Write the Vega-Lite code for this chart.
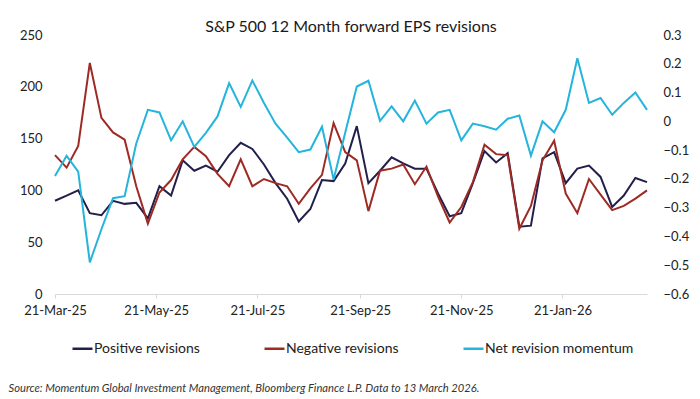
{
  "$schema": "https://vega.github.io/schema/vega-lite/v6.json",
  "width": 592,
  "height": 259,
  "autosize": {"type": "none"},
  "padding": {"left": 55, "top": 35, "right": 53, "bottom": 105},
  "background": "white",
  "config": {
    "view": {"stroke": null},
    "font": "Lato",
    "axis": {"grid": false, "labelFont": "Lato", "labelColor": "#222222", "labelFontSize": 13, "titleFont": "Lato"},
    "legend": {"labelFont": "Lato"}
  },
  "title": {
    "text": "S&P 500 12 Month forward EPS revisions",
    "fontSize": 16,
    "fontWeight": "normal",
    "color": "#1a1a1a",
    "anchor": "middle",
    "baseline": "middle",
    "offset": -14,
    "font": "Lato"
  },
  "data": {
    "values": [
      {"date": "2025-03-21", "Positive revisions": 90, "Negative revisions": 134, "Net revision momentum": -0.19},
      {"date": "2025-03-28", "Positive revisions": 95, "Negative revisions": 122, "Net revision momentum": -0.12},
      {"date": "2025-04-04", "Positive revisions": 100, "Negative revisions": 143, "Net revision momentum": -0.175},
      {"date": "2025-04-11", "Positive revisions": 78, "Negative revisions": 223, "Net revision momentum": -0.49},
      {"date": "2025-04-18", "Positive revisions": 76, "Negative revisions": 170, "Net revision momentum": -0.375},
      {"date": "2025-04-25", "Positive revisions": 90, "Negative revisions": 156, "Net revision momentum": -0.267},
      {"date": "2025-05-02", "Positive revisions": 87, "Negative revisions": 149, "Net revision momentum": -0.26},
      {"date": "2025-05-09", "Positive revisions": 88, "Negative revisions": 104, "Net revision momentum": -0.077},
      {"date": "2025-05-16", "Positive revisions": 73, "Negative revisions": 68, "Net revision momentum": 0.04},
      {"date": "2025-05-23", "Positive revisions": 104, "Negative revisions": 98, "Net revision momentum": 0.031},
      {"date": "2025-05-30", "Positive revisions": 95, "Negative revisions": 110, "Net revision momentum": -0.066},
      {"date": "2025-06-06", "Positive revisions": 129, "Negative revisions": 130, "Net revision momentum": 0.0},
      {"date": "2025-06-13", "Positive revisions": 119, "Negative revisions": 142, "Net revision momentum": -0.089},
      {"date": "2025-06-20", "Positive revisions": 124, "Negative revisions": 133, "Net revision momentum": -0.04},
      {"date": "2025-06-27", "Positive revisions": 118, "Negative revisions": 116, "Net revision momentum": 0.017},
      {"date": "2025-07-04", "Positive revisions": 134, "Negative revisions": 104, "Net revision momentum": 0.133},
      {"date": "2025-07-11", "Positive revisions": 146, "Negative revisions": 130, "Net revision momentum": 0.05},
      {"date": "2025-07-18", "Positive revisions": 140, "Negative revisions": 104, "Net revision momentum": 0.142},
      {"date": "2025-07-25", "Positive revisions": 125, "Negative revisions": 111, "Net revision momentum": 0.064},
      {"date": "2025-08-01", "Positive revisions": 107, "Negative revisions": 107, "Net revision momentum": -0.008},
      {"date": "2025-08-08", "Positive revisions": 92, "Negative revisions": 104, "Net revision momentum": -0.057},
      {"date": "2025-08-15", "Positive revisions": 70, "Negative revisions": 87, "Net revision momentum": -0.107},
      {"date": "2025-08-22", "Positive revisions": 82, "Negative revisions": 102, "Net revision momentum": -0.098},
      {"date": "2025-08-29", "Positive revisions": 110, "Negative revisions": 115, "Net revision momentum": -0.019},
      {"date": "2025-09-05", "Positive revisions": 109, "Negative revisions": 165, "Net revision momentum": -0.202},
      {"date": "2025-09-12", "Positive revisions": 126, "Negative revisions": 137, "Net revision momentum": -0.04},
      {"date": "2025-09-19", "Positive revisions": 162, "Negative revisions": 129, "Net revision momentum": 0.121},
      {"date": "2025-09-26", "Positive revisions": 107, "Negative revisions": 80, "Net revision momentum": 0.141},
      {"date": "2025-10-03", "Positive revisions": 119, "Negative revisions": 119, "Net revision momentum": 0.002},
      {"date": "2025-10-10", "Positive revisions": 132, "Negative revisions": 121, "Net revision momentum": 0.052},
      {"date": "2025-10-17", "Positive revisions": 126, "Negative revisions": 125, "Net revision momentum": 0.0},
      {"date": "2025-10-24", "Positive revisions": 121, "Negative revisions": 106, "Net revision momentum": 0.072},
      {"date": "2025-10-31", "Positive revisions": 121, "Negative revisions": 123, "Net revision momentum": -0.008},
      {"date": "2025-11-07", "Positive revisions": 97, "Negative revisions": 94, "Net revision momentum": 0.031},
      {"date": "2025-11-14", "Positive revisions": 75, "Negative revisions": 69, "Net revision momentum": 0.04},
      {"date": "2025-11-21", "Positive revisions": 78, "Negative revisions": 84, "Net revision momentum": -0.066},
      {"date": "2025-11-28", "Positive revisions": 107, "Negative revisions": 108, "Net revision momentum": -0.008},
      {"date": "2025-12-05", "Positive revisions": 138, "Negative revisions": 144, "Net revision momentum": -0.017},
      {"date": "2025-12-12", "Positive revisions": 127, "Negative revisions": 135, "Net revision momentum": -0.029},
      {"date": "2025-12-19", "Positive revisions": 136, "Negative revisions": 134, "Net revision momentum": 0.009},
      {"date": "2025-12-26", "Positive revisions": 65, "Negative revisions": 63, "Net revision momentum": 0.02},
      {"date": "2026-01-02", "Positive revisions": 66, "Negative revisions": 85, "Net revision momentum": -0.119},
      {"date": "2026-01-09", "Positive revisions": 131, "Negative revisions": 129, "Net revision momentum": 0.0},
      {"date": "2026-01-16", "Positive revisions": 137, "Negative revisions": 148, "Net revision momentum": -0.038},
      {"date": "2026-01-23", "Positive revisions": 107, "Negative revisions": 97, "Net revision momentum": 0.04},
      {"date": "2026-01-30", "Positive revisions": 121, "Negative revisions": 78, "Net revision momentum": 0.219},
      {"date": "2026-02-06", "Positive revisions": 124, "Negative revisions": 111, "Net revision momentum": 0.064},
      {"date": "2026-02-13", "Positive revisions": 113, "Negative revisions": 96, "Net revision momentum": 0.081},
      {"date": "2026-02-20", "Positive revisions": 84, "Negative revisions": 81, "Net revision momentum": 0.023},
      {"date": "2026-02-27", "Positive revisions": 95, "Negative revisions": 85, "Net revision momentum": 0.064},
      {"date": "2026-03-06", "Positive revisions": 112, "Negative revisions": 92, "Net revision momentum": 0.1},
      {"date": "2026-03-13", "Positive revisions": 108, "Negative revisions": 100, "Net revision momentum": 0.04}
    ]
  },
  "encoding": {
    "x": {
      "field": "date",
      "type": "temporal",
      "scale": {
        "type": "utc",
        "domain": [
          {"year": 2025, "month": 3, "date": 21, "utc": true},
          {"year": 2026, "month": 3, "date": 13, "utc": true}
        ]
      },
      "axis": {
        "values": [
          {"year": 2025, "month": 3, "date": 21, "utc": true},
          {"year": 2025, "month": 5, "date": 21, "utc": true},
          {"year": 2025, "month": 7, "date": 21, "utc": true},
          {"year": 2025, "month": 9, "date": 21, "utc": true},
          {"year": 2025, "month": 11, "date": 21, "utc": true},
          {"year": 2026, "month": 1, "date": 21, "utc": true}
        ],
        "labelExpr": "utcFormat(datum.value, '%d-%b-%y')",
        "labelFlush": false,
        "labelOverlap": false,
        "labelBound": false,
        "domainColor": "#d9d9d9",
        "tickColor": "#d9d9d9",
        "tickSize": 4,
        "labelPadding": 6,
        "labelFontSize": 13,
        "title": "Source: Momentum Global Investment Management, Bloomberg Finance L.P. Data to 13 March 2026.",
        "titleFontStyle": "italic",
        "titleFontWeight": "normal",
        "titleFontSize": 11.2,
        "titleColor": "#333333",
        "titleAnchor": "start",
        "titleAlign": "left",
        "titleBaseline": "alphabetic",
        "titleX": -47,
        "titleY": 97
      }
    }
  },
  "layer": [
    {
      "transform": [{"fold": ["Positive revisions", "Negative revisions"], "as": ["series", "value"]}],
      "mark": {"type": "line", "strokeWidth": 2},
      "encoding": {
        "y": {
          "field": "value",
          "type": "quantitative",
          "scale": {"domain": [0, 250]},
          "axis": {"values": [0, 50, 100, 150, 200, 250], "domain": false, "ticks": false, "labelPadding": 13, "title": null}
        },
        "color": {
          "field": "series",
          "type": "nominal",
          "scale": {
            "domain": ["Positive revisions", "Negative revisions", "Net revision momentum"],
            "range": ["#221f4b", "#9e2a24", "#25b4dc"]
          },
          "legend": {
            "title": null,
            "orient": "none",
            "direction": "horizontal",
            "legendX": 16,
            "legendY": 302,
            "symbolType": "stroke",
            "symbolSize": 400,
            "symbolStrokeWidth": 2.5,
            "labelFontSize": 14,
            "labelColor": "#222222",
            "labelOffset": 0,
            "columnPadding": 59
          }
        }
      }
    },
    {
      "transform": [{"fold": ["Net revision momentum"], "as": ["series", "value"]}],
      "mark": {"type": "line", "strokeWidth": 2},
      "encoding": {
        "y": {
          "field": "value",
          "type": "quantitative",
          "scale": {"domain": [-0.6, 0.3]},
          "axis": {"orient": "right", "values": [-0.6, -0.5, -0.4, -0.3, -0.2, -0.1, 0, 0.1, 0.2, 0.3], "format": "~g", "domain": false, "ticks": false, "labelPadding": 16, "title": null}
        },
        "color": {"field": "series", "type": "nominal"}
      }
    }
  ],
  "resolve": {"scale": {"y": "independent"}}
}
